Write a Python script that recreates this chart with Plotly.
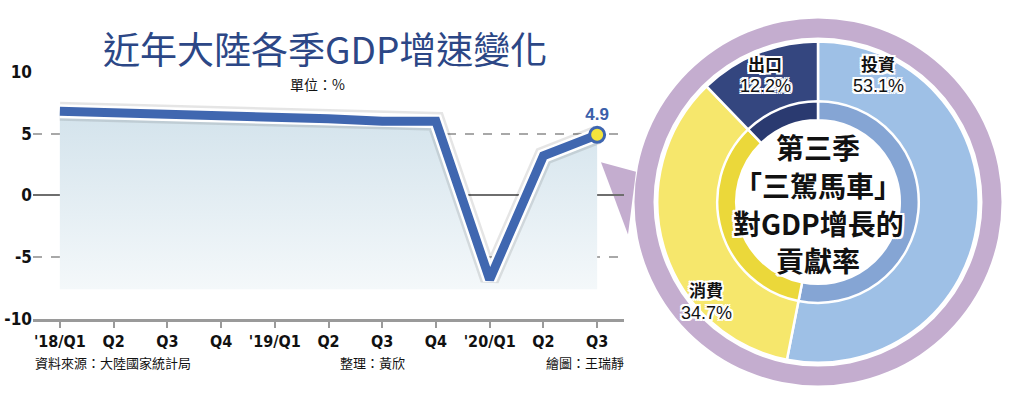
import plotly.graph_objects as go

W, H = 1024, 407

# ---------------- data ----------------
quarters = ["'18/Q1", "Q2", "Q3", "Q4", "'19/Q1", "Q2", "Q3", "Q4", "'20/Q1", "Q2", "Q3"]
gdp_growth = [6.8, 6.7, 6.5, 6.4, 6.4, 6.2, 6.0, 6.0, -6.8, 3.2, 4.9]
y_ticks = [10, 5, 0, -5, -10]
fill_floor = -7.6

pie_labels = ["投資", "消費", "出口"]
pie_values = [53.1, 34.7, 12.2]
pie_colors = ["#9ec0e6", "#f6e76c", "#34467f"]
pie_inner_colors = ["#85a5d4", "#ebd83a", "#2a3a70"]

title_text = "近年大陸各季GDP增速變化"
center_lines = ["第三季", "「三駕馬車」", "對GDP增長的", "貢獻率"]

# ---------------- helpers ----------------
def px(x):
    return x / W

def py(y):
    return 1 - y / H

def dom(cx, cy, r):
    return dict(x=[px(cx - r), px(cx + r)], y=[py(cy + r), py(cy - r)])

CJK = "Noto Sans CJK TC, Noto Sans CJK SC, sans-serif"
NARROW = "Liberation Sans Narrow, DejaVu Sans Condensed, Arial Narrow, sans-serif"
halo = ("2px 0 0 #fff, -2px 0 0 #fff, 0 2px 0 #fff, 0 -2px 0 #fff, "
        "2px 2px 0 #fff, -2px -2px 0 #fff, 2px -2px 0 #fff, -2px 2px 0 #fff")

xs = list(range(len(quarters)))

fig = go.Figure()

# area fill under line
fig.add_trace(go.Scatter(x=xs, y=[fill_floor] * len(xs), mode="lines",
                         line=dict(width=0, color="rgba(0,0,0,0)"),
                         hoverinfo="skip", showlegend=False))
fig.add_trace(go.Scatter(x=xs, y=gdp_growth, mode="lines", fill="tonexty",
                         line=dict(width=0, color="rgba(0,0,0,0)"),
                         fillgradient=dict(type="vertical",
                                           colorscale=[[0, "#f4f8fa"], [1, "#d3e3ec"]]),
                         hoverinfo="skip", showlegend=False))
# shadow, white outline, blue line
fig.add_trace(go.Scatter(x=xs, y=gdp_growth, mode="lines",
                         line=dict(width=19, color="rgba(0,0,0,0.10)"),
                         hoverinfo="skip", showlegend=False))
fig.add_trace(go.Scatter(x=xs, y=gdp_growth, mode="lines",
                         line=dict(width=14, color="#ffffff"),
                         hoverinfo="skip", showlegend=False))
fig.add_trace(go.Scatter(x=xs, y=gdp_growth, mode="lines",
                         line=dict(width=9, color="#4067b0"),
                         hoverinfo="skip", showlegend=False))
# end marker
fig.add_trace(go.Scatter(x=[xs[-1]], y=[gdp_growth[-1]], mode="markers+text",
                         marker=dict(size=15, color="#f3e43c",
                                     line=dict(width=3, color="#3f66b0")),
                         text=[f"{gdp_growth[-1]}"], textposition="top center",
                         textfont=dict(family="Liberation Sans, Arial, sans-serif",
                                       size=17, color="#3b60aa", weight="bold"),
                         hoverinfo="skip", showlegend=False))

# donut: purple ring
fig.add_trace(go.Pie(values=[1], labels=["ring"], hole=173 / 193, sort=False,
                     marker=dict(colors=["#c4adcf"], line=dict(width=0)),
                     textinfo="none", hoverinfo="skip", showlegend=False,
                     domain=dom(818, 202, 193)))
# donut: main segments
fig.add_trace(go.Pie(values=pie_values, labels=pie_labels, hole=86 / 169,
                     sort=False, direction="clockwise", rotation=0,
                     marker=dict(colors=pie_colors, line=dict(width=2.5, color="#ffffff")),
                     textinfo="none", hoverinfo="skip", showlegend=False,
                     domain=dom(818, 202, 169)))
# donut: darker inner band
fig.add_trace(go.Pie(values=pie_values, labels=pie_labels, hole=86 / 106,
                     sort=False, direction="clockwise", rotation=0,
                     marker=dict(colors=pie_inner_colors, line=dict(width=2.5, color="#ffffff")),
                     textinfo="none", hoverinfo="skip", showlegend=False,
                     domain=dom(818, 202, 106)))

# speech bubble tail
tail = [(601, 160), (636, 170), (628, 236)]
path = "M " + " L ".join(f"{px(a):.5f},{py(b):.5f}" for a, b in tail) + " Z"
shapes = [dict(type="path", xref="paper", yref="paper", path=path,
               fillcolor="#c4adcf", line=dict(width=0), layer="below")]

annotations = []
annotations.append(dict(text=title_text, x=px(325), y=py(40), xref="paper", yref="paper",
                        showarrow=False, xanchor="center", yanchor="middle",
                        font=dict(family=CJK, size=37, color="#2c4786")))
annotations.append(dict(text="單位：%", x=px(317), y=py(78), xref="paper", yref="paper",
                        showarrow=False, xanchor="center", yanchor="middle",
                        font=dict(family=CJK, size=14, color="#111")))
footers = [("資料來源：大陸國家統計局", 33, "left"), ("整理：黃欣", 338, "left"),
           ("繪圖：王瑞靜", 626, "right")]
for t, x, anc in footers:
    annotations.append(dict(text=t, x=px(x), y=py(371), xref="paper", yref="paper",
                            showarrow=False, xanchor=anc, yanchor="middle",
                            font=dict(family=CJK, size=13, color="#111")))

# donut segment labels
seg_pos = [(878, 56, 80), (706, 294, 319), (765, 56, 80)]
for lab, val, (x, y1, y2) in zip(pie_labels, pie_values, seg_pos):
    annotations.append(dict(text=lab, x=px(x), y=py(y1), xref="paper", yref="paper",
                            showarrow=False, xanchor="center", yanchor="middle",
                            font=dict(family=CJK, size=17, color="#111", weight="bold",
                                      shadow=halo)))
    annotations.append(dict(text=f"{val}%", x=px(x), y=py(y2), xref="paper", yref="paper",
                            showarrow=False, xanchor="center", yanchor="middle",
                            font=dict(family="Liberation Sans, Arial, sans-serif", size=18,
                                      color="#111", shadow=halo)))

# center text
for t, y in zip(center_lines, [144, 184, 224, 263]):
    annotations.append(dict(text=t, x=px(818), y=py(y), xref="paper", yref="paper",
                            showarrow=False, xanchor="center", yanchor="middle",
                            font=dict(family=CJK, size=28, color="#111", weight="bold",
                                      shadow=halo)))

fig.update_layout(
    width=W, height=H,
    margin=dict(l=0, r=0, t=0, b=0),
    paper_bgcolor="#ffffff", plot_bgcolor="rgba(0,0,0,0)",
    xaxis=dict(domain=[px(33), px(624)], range=[-0.5, 10.5],
               tickmode="array", tickvals=xs, ticktext=quarters,
               showgrid=False, zeroline=False,
               showline=True, linecolor="#9a9a9a", linewidth=3,
               ticks="outside", ticklen=6, tickwidth=2, tickcolor="#9a9a9a",
               ticklabelstandoff=0,
               tickfont=dict(family=NARROW, size=16, color="#111", weight="bold"),
               fixedrange=True),
    yaxis=dict(domain=[py(325), py(65)], range=[-10, 10],
               tickmode="array", tickvals=y_ticks, ticktext=[str(v) for v in y_ticks],
               showgrid=True, gridcolor="#a8a8a8", gridwidth=1.5, griddash="dash",
               zeroline=True, zerolinecolor="#6e6e6e", zerolinewidth=2,
               showline=False, ticks="",
               tickfont=dict(family=NARROW, size=17, color="#111", weight="bold"),
               fixedrange=True),
    shapes=shapes,
    annotations=annotations,
    font=dict(family=CJK),
)

fig.write_html("out.html")
